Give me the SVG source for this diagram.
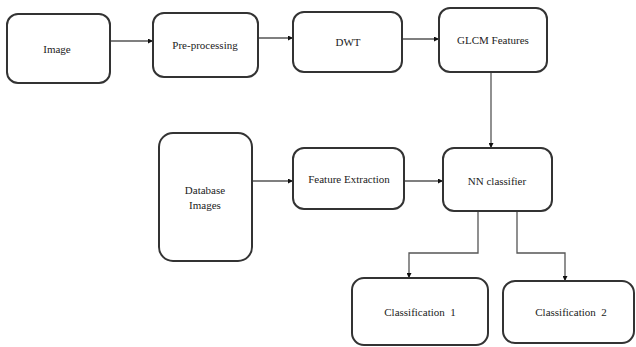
<svg xmlns="http://www.w3.org/2000/svg" width="636" height="347" viewBox="0 0 636 347">
<defs>
<marker id="ah" viewBox="0 0 10 10" refX="10" refY="5" markerWidth="5" markerHeight="5" orient="auto" markerUnits="userSpaceOnUse">
<path d="M0,0 L10,5 L0,10 z" fill="#111"/>
</marker>
<style>
.box{fill:#fff;stroke:#333;stroke-width:2}
.lbl{font-family:'Liberation Serif','DejaVu Serif',serif;font-size:11px;fill:#222;text-anchor:middle;dominant-baseline:central;white-space:pre}
.conn{fill:none;stroke:#555;stroke-width:1.3}
</style>
</defs>
<rect width="636" height="347" fill="#fff"/>
<g id="connectors">
<line class="conn" x1="111" y1="41" x2="153" y2="41" marker-end="url(#ah)"/>
<line class="conn" x1="258" y1="38" x2="293" y2="38" marker-end="url(#ah)"/>
<line class="conn" x1="402" y1="39" x2="439" y2="39" marker-end="url(#ah)"/>
<line class="conn" x1="491" y1="72" x2="491" y2="148" marker-end="url(#ah)"/>
<line class="conn" x1="252" y1="181" x2="293" y2="181" marker-end="url(#ah)"/>
<line class="conn" x1="404" y1="181" x2="443" y2="181" marker-end="url(#ah)"/>
<polyline class="conn" points="478,211 478,253 409,253 409,278" marker-end="url(#ah)"/>
<polyline class="conn" points="517,211 517,253 565,253 565,281" marker-end="url(#ah)"/>
</g>
<g id="image">
<rect class="box" x="7" y="14" width="103" height="69" rx="11"/>
<text class="lbl" x="57" y="49" font-family="Liberation Serif, serif">Image</text>
</g>
<g id="preprocessing">
<rect class="box" x="153" y="13" width="105" height="64" rx="11"/>
<text class="lbl" x="205" y="45" font-family="Liberation Serif, serif">Pre-processing</text>
</g>
<g id="dwt">
<rect class="box" x="293" y="12" width="109" height="60" rx="11"/>
<text class="lbl" x="348" y="42" font-family="Liberation Serif, serif">DWT</text>
</g>
<g id="glcm">
<rect class="box" x="439" y="8" width="108" height="64" rx="11"/>
<text class="lbl" x="493" y="40" font-family="Liberation Serif, serif">GLCM Features</text>
</g>
<g id="database">
<rect class="box" x="159" y="133" width="93" height="128" rx="14"/>
<text class="lbl" x="205" y="190" font-family="Liberation Serif, serif">Database</text>
<text class="lbl" x="205" y="205" font-family="Liberation Serif, serif">Images</text>
</g>
<g id="feature-extraction">
<rect class="box" x="293" y="148" width="111" height="61" rx="11"/>
<text class="lbl" x="349" y="179" font-family="Liberation Serif, serif">Feature Extraction</text>
</g>
<g id="nn-classifier">
<rect class="box" x="443" y="148" width="109" height="63" rx="11"/>
<text class="lbl" x="497" y="181" font-family="Liberation Serif, serif">NN classifier</text>
</g>
<g id="classification1">
<rect class="box" x="352" y="278" width="136" height="67" rx="12"/>
<text class="lbl" x="420" y="312" font-family="Liberation Serif, serif" xml:space="preserve">Classification  1</text>
</g>
<g id="classification2">
<rect class="box" x="503" y="281" width="131" height="62" rx="12"/>
<text class="lbl" x="571" y="312" font-family="Liberation Serif, serif" xml:space="preserve">Classification  2</text>
</g>
</svg>
